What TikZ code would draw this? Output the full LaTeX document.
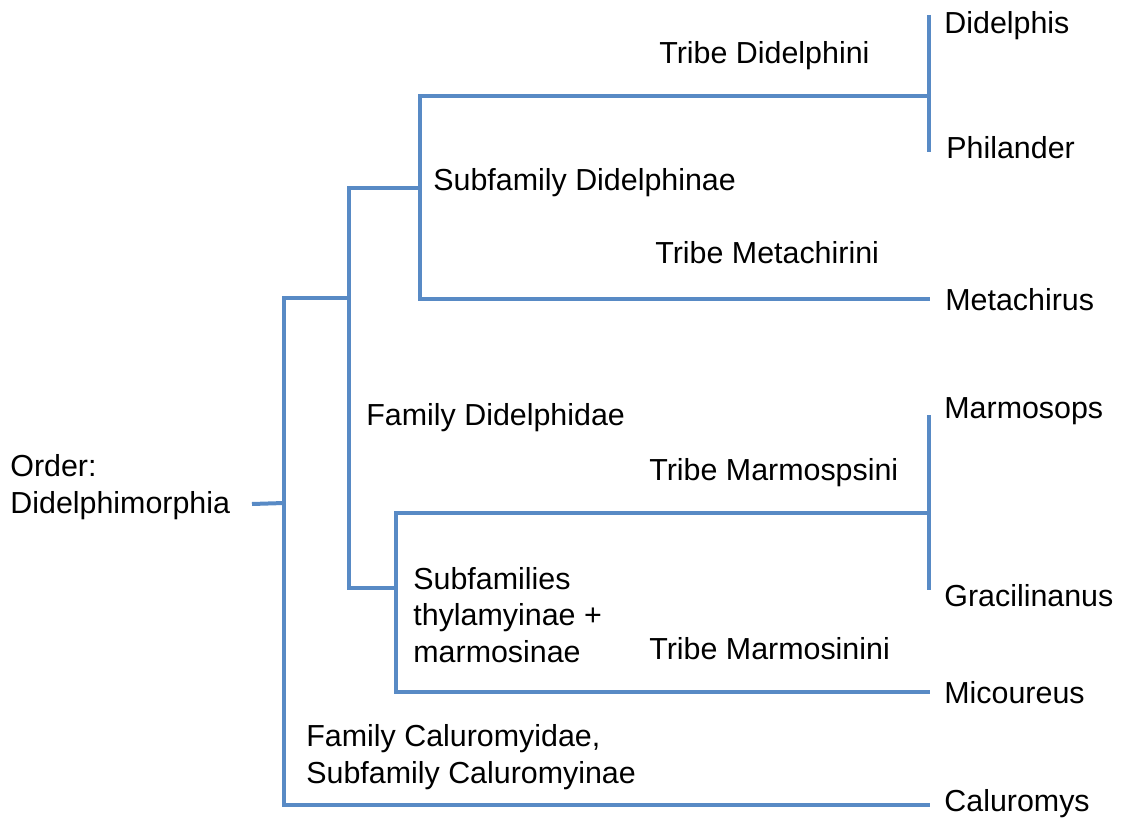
\documentclass[tikz,border=0pt]{standalone}
\usepackage{fontspec}
\setmainfont{Liberation Sans}
\begin{document}
\begin{tikzpicture}[x=0.5pt,y=-0.5pt,
  branch/.style={line width=2pt, color={rgb,255:red,88;green,138;blue,197}, line cap=butt, line join=miter},
  lbl/.style={anchor=west, inner sep=0pt, font=\fontsize{15.2pt}{18.3pt}\selectfont, align=left}]
\useasboundingbox (0,0) rectangle (1126,824);
% labels
\node[lbl] (didelphis) at (944,26) {Didelphis};
\node[lbl] (philander) at (946,148) {Philander};
\node[lbl] (tdid) at (659,56) {Tribe Didelphini};
\node[lbl] (sdid) at (433,183) {Subfamily Didelphinae};
\node[lbl] (tmet) at (655,253) {Tribe Metachirini};
\node[lbl] (metachirus) at (945,300) {Metachirus};
\node[lbl] (marmosops) at (944,411) {Marmosops};
\node[lbl] (fdid) at (366,418) {Family Didelphidae};
\node[lbl] (order) at (10,487) {Order:\\Didelphimorphia};
\node[lbl] (tmarmo) at (649,473) {Tribe Marmospsini};
\node[lbl] (subs) at (413,615) {Subfamilies\\thylamyinae +\\marmosinae};
\node[lbl] (gracil) at (944,596) {Gracilinanus};
\node[lbl] (tmarmi) at (649,649) {Tribe Marmosinini};
\node[lbl] (micoureus) at (944,693) {Micoureus};
\node[lbl] (fcal) at (306,757) {Family Caluromyidae,\\Subfamily Caluromyinae};
\node[lbl] (caluromys) at (944,804) {Caluromys};
% junction coordinates
\coordinate (rootend) at (252,504);
\coordinate (r) at (284,503);
\coordinate (rtop) at (284,298);
\coordinate (rbot) at (284,805);
\coordinate (calend) at (930,805);
\coordinate (f) at (349,298);
\coordinate (ftop) at (349,188);
\coordinate (fbot) at (349,588);
\coordinate (d) at (420,188);
\coordinate (dtop) at (420,96);
\coordinate (dbot) at (420,299);
\coordinate (didj) at (929,96);
\coordinate (didtop) at (929,15);
\coordinate (didbot) at (929,152);
\coordinate (metend) at (930,299);
\coordinate (m) at (396,588);
\coordinate (mtop) at (396,513);
\coordinate (mbot) at (396,692);
\coordinate (marj) at (929,513);
\coordinate (martop) at (929,415);
\coordinate (marbot) at (929,590);
\coordinate (micend) at (930,692);
% connectors
\draw[branch] (rootend) -- (r);
\draw[branch] (f) -- (rtop) -- (rbot) -- (calend);
\draw[branch] (d) -- (ftop) -- (fbot) -- (m);
\draw[branch] (didj) -- (dtop) -- (dbot) -- (metend);
\draw[branch] (didtop) -- (didbot);
\draw[branch] (marj) -- (mtop) -- (mbot) -- (micend);
\draw[branch] (martop) -- (marbot);
\end{tikzpicture}
\end{document}
